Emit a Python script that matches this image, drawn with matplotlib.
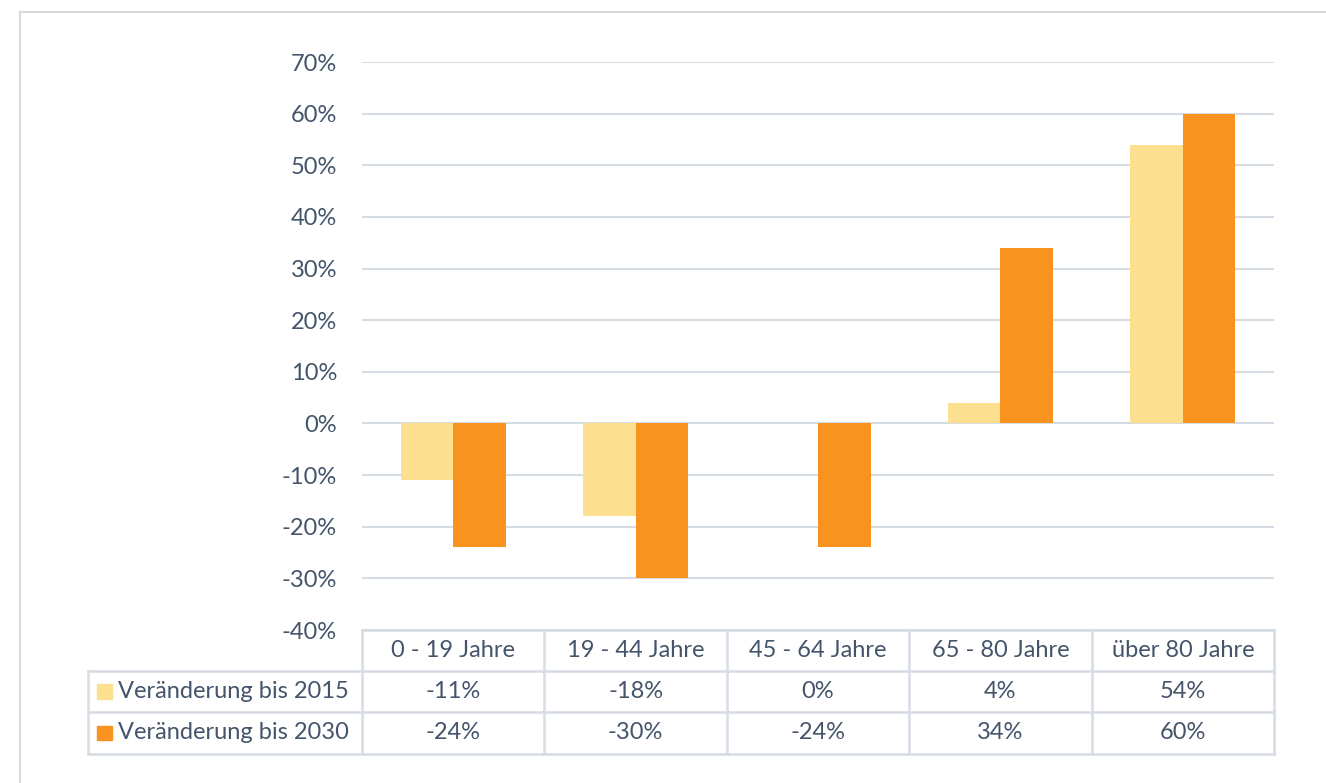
import numpy as np
import matplotlib.pyplot as plt
from matplotlib.patches import Rectangle
from matplotlib.lines import Line2D

# Daten
categories = ["0 - 19 Jahre", "19 - 44 Jahre", "45 - 64 Jahre", "65 - 80 Jahre", "über 80 Jahre"]
series_names = ["Veränderung bis 2015", "Veränderung bis 2030"]
change_2015 = [-11, -18, 0, 4, 54]
change_2030 = [-24, -30, -24, 34, 60]
y_ticks = [-40, -30, -20, -10, 0, 10, 20, 30, 40, 50, 60, 70]

colors = ["#FDE08F", "#F7931E"]
text_col = "#44546A"
line_col = "#D6DCE4"
fs = 17

plt.rcParams["font.family"] = ["Lato", "DejaVu Sans"]

fig = plt.figure(figsize=(13.26, 7.83), dpi=100)
ax = fig.add_axes([0.273, 0.1954, 0.6878, 0.7254])

x = np.arange(len(categories))
w = 0.288
ax.bar(x - w / 2, change_2015, w, color=colors[0], zorder=3)
ax.bar(x + w / 2, change_2030, w, color=colors[1], zorder=3)

ax.set_xlim(-0.5, len(categories) - 0.5)
ax.set_ylim(-40, 70)
ax.set_yticks(y_ticks)
ax.set_yticklabels([f"{t}%" for t in y_ticks])
ax.tick_params(axis="y", length=0, pad=18, labelsize=fs, labelcolor=text_col)
ax.set_xticks([])
ax.grid(axis="y", color=line_col, linewidth=1.5, zorder=0)
for s in ax.spines.values():
    s.set_visible(False)

# Datentabelle unter dem Diagramm
tr = ax.get_xaxis_transform()
row_h = 0.0725
n = len(categories)
left = -2.0
rows = [0, -row_h, -2 * row_h, -3 * row_h]

# horizontale Linien
ax.add_line(Line2D([-0.5, n - 0.5], [rows[0], rows[0]], transform=tr, color=line_col, lw=1.8, clip_on=False))
for r in rows[1:]:
    ax.add_line(Line2D([left, n - 0.5], [r, r], transform=tr, color=line_col, lw=1.8, clip_on=False))
# vertikale Linien
for i in range(n + 1):
    ax.add_line(Line2D([i - 0.5, i - 0.5], [rows[0], rows[3]], transform=tr, color=line_col, lw=1.8, clip_on=False))
ax.add_line(Line2D([left, left], [rows[1], rows[3]], transform=tr, color=line_col, lw=1.8, clip_on=False))

# Kopfzeile
for i, c in enumerate(categories):
    ax.text(i, -row_h / 2, c, transform=tr, ha="center", va="center", fontsize=fs, color=text_col, clip_on=False)

# Datenzeilen
for k, (name, vals) in enumerate(zip(series_names, [change_2015, change_2030])):
    yc = -(k + 1.5) * row_h
    ax.add_patch(Rectangle((-1.953, yc - 0.013), 0.083, 0.026, transform=tr, color=colors[k], clip_on=False))
    ax.text(-1.838, yc, name, transform=tr, ha="left", va="center", fontsize=fs, color=text_col, clip_on=False)
    for i, v in enumerate(vals):
        ax.text(i, yc, f"{v}%", transform=tr, ha="center", va="center", fontsize=fs, color=text_col, clip_on=False)

# äußerer Rahmen
fig.add_artist(Line2D([0.0151, 0.0151], [0, 0.9847], transform=fig.transFigure, color="#D9D9D9", lw=1.5))
fig.add_artist(Line2D([0.0151, 1], [0.9847, 0.9847], transform=fig.transFigure, color="#D9D9D9", lw=1.5))

fig.savefig("out.png", dpi=100)
